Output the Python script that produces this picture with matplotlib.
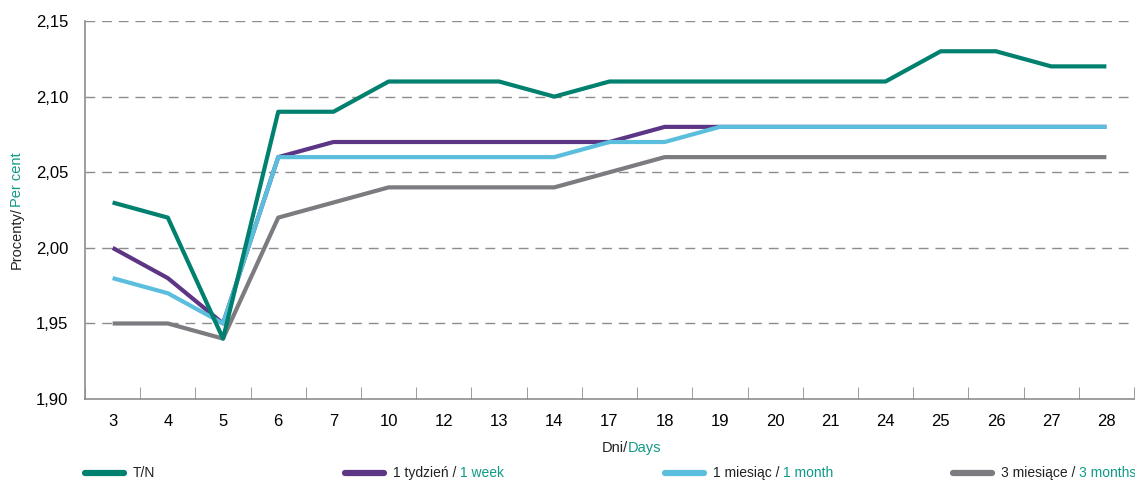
import matplotlib
matplotlib.use("Agg")
import matplotlib.pyplot as plt
from matplotlib.lines import Line2D

plt.rcParams['font.family'] = ['Liberation Sans', 'DejaVu Sans']

days = ["3", "4", "5", "6", "7", "10", "12", "13", "14", "17",
        "18", "19", "20", "21", "24", "25", "26", "27", "28"]
tn = [2.03, 2.02, 1.94, 2.09, 2.09, 2.11, 2.11, 2.11, 2.10, 2.11,
      2.11, 2.11, 2.11, 2.11, 2.11, 2.13, 2.13, 2.12, 2.12]
week1 = [2.00, 1.98, 1.95, 2.06, 2.07, 2.07, 2.07, 2.07, 2.07, 2.07,
         2.08, 2.08, 2.08, 2.08, 2.08, 2.08, 2.08, 2.08, 2.08]
month1 = [1.98, 1.97, 1.95, 2.06, 2.06, 2.06, 2.06, 2.06, 2.06, 2.07,
          2.07, 2.08, 2.08, 2.08, 2.08, 2.08, 2.08, 2.08, 2.08]
month3 = [1.95, 1.95, 1.94, 2.02, 2.03, 2.04, 2.04, 2.04, 2.04, 2.05,
          2.06, 2.06, 2.06, 2.06, 2.06, 2.06, 2.06, 2.06, 2.06]
yticks = [1.90, 1.95, 2.00, 2.05, 2.10, 2.15]

TEAL = "#00806f"
TEAL_TXT = "#109a87"
PURPLE = "#5c3585"
BLUE = "#5bbedd"
GRAY = "#7b7b80"
AXC = "#8c8c8c"

fig = plt.figure(figsize=(11.35, 4.82), dpi=100)
ax = fig.add_axes([0.0749, 0.172, 0.9242, 0.7844])

x = [i + 0.5 for i in range(len(days))]
lw = 3.0
ax.plot(x, month3, color=GRAY, lw=lw, solid_capstyle='butt', zorder=3)
ax.plot(x, week1, color=PURPLE, lw=lw, solid_capstyle='butt', zorder=4)
ax.plot(x, month1, color=BLUE, lw=lw, solid_capstyle='butt', zorder=5)
ax.plot(x, tn, color=TEAL, lw=lw, solid_capstyle='butt', zorder=6)

ax.set_xlim(0, len(days))
ax.set_ylim(1.90, 2.15)
ax.set_yticks(yticks)
ax.set_yticklabels([f"{v:.2f}".replace(".", ",") for v in yticks], fontsize=12)
ax.set_xticks(x)
ax.set_xticklabels(days, fontsize=12)
ax.set_xticks(range(len(days) + 1), minor=True)
ax.tick_params(axis='x', which='major', length=0, pad=11)
ax.tick_params(axis='x', which='minor', direction='in', length=9, color=AXC)
ax.tick_params(axis='y', length=0, pad=12)

for v in yticks[1:]:
    ax.axhline(v, color=AXC, lw=1, dashes=(7, 5), zorder=1)

for s in ['top', 'right']:
    ax.spines[s].set_visible(False)
for s in ['left', 'bottom']:
    ax.spines[s].set_color(AXC)
    ax.spines[s].set_linewidth(1.2)

# x axis label, two colours
fig.text(0.5535, 0.055, "Dni/", fontsize=10.5, ha='right', va='bottom', color='#222222')
fig.text(0.5535, 0.055, "Days", fontsize=10.5, ha='left', va='bottom', color=TEAL_TXT)

# y axis label, two colours
fig.text(0.009, 0.571, "Procenty/", fontsize=10.5, rotation=90, ha='left', va='top', color='#222222')
fig.text(0.009, 0.571, "Per cent", fontsize=10.5, rotation=90, ha='left', va='bottom', color=TEAL_TXT)

# legend
legend_items = [
    (0.075, TEAL, "T/N", ""),
    (0.304, PURPLE, "1 tydzień / ", "1 week"),
    (0.586, BLUE, "1 miesiąc / ", "1 month"),
    (0.840, GRAY, "3 miesiące / ", "3 months"),
]
ly = 0.018
fig.canvas.draw()
for lx, col, black, teal in legend_items:
    fig.add_artist(Line2D([lx, lx + 0.034], [ly, ly], transform=fig.transFigure,
                          color=col, lw=4.5, solid_capstyle='round'))
    t = fig.text(lx + 0.042, ly, black, fontsize=10, ha='left', va='center', color='#222222')
    if teal:
        bb = t.get_window_extent(renderer=fig.canvas.get_renderer())
        fig.text(bb.x1 / fig.bbox.width, ly, teal, fontsize=10, ha='left', va='center', color=TEAL_TXT)

fig.savefig("out.png", dpi=100)
